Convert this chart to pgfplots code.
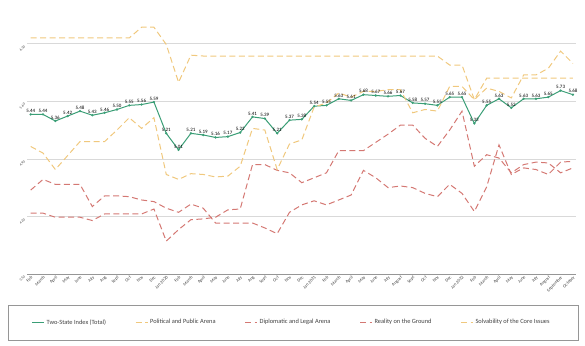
\documentclass[border=0pt]{standalone}
\usepackage{fontspec}
\setmainfont{Carlito}
\usepackage{pgfplots}
\usepackage{pgfplotstable}
\pgfplotsset{compat=1.18}
\definecolor{cgreen}{RGB}{58,158,118}
\definecolor{cyellow}{RGB}{240,200,125}
\definecolor{cred}{RGB}{212,120,115}
\definecolor{cgrid}{RGB}{217,217,217}
\definecolor{caxis}{RGB}{150,150,150}
\definecolor{ctext}{RGB}{64,64,64}

\pgfplotstableread{
i total pol solv real dip
0 5.44 6.37 5.05 4.52 4.24
1 5.44 6.37 4.97 4.65 4.24
2 5.36 6.37 4.77 4.59 4.19
3 5.42 6.37 4.94 4.59 4.19
4 5.48 6.37 5.11 4.59 4.19
5 5.43 6.37 5.11 4.32 4.15
6 5.46 6.37 5.11 4.45 4.23
7 5.50 6.37 5.25 4.45 4.23
8 5.55 6.37 5.40 4.44 4.23
9 5.56 6.50 5.27 4.40 4.23
10 5.59 6.50 5.40 4.38 4.29
11 5.21 6.29 4.71 4.30 3.90
12 5.01 5.83 4.65 4.25 4.04
13 5.21 6.16 4.72 4.35 4.16
14 5.19 6.15 4.71 4.30 4.17
15 5.16 6.15 4.68 4.12 4.19
16 5.17 6.15 4.69 4.12 4.28
17 5.22 6.15 4.81 4.12 4.29
18 5.41 6.15 5.27 4.12 4.83
19 5.39 6.15 5.25 4.06 4.83
20 5.21 6.15 4.77 3.99 4.76
21 5.37 6.15 5.08 4.25 4.73
22 5.38 6.15 5.13 4.34 4.61
23 5.54 6.15 5.53 4.39 4.67
24 5.55 6.15 5.58 4.34 4.73
25 5.63 6.15 5.70 4.40 5.00
26 5.61 6.15 5.65 4.46 5.00
27 5.68 6.15 5.72 4.76 5.00
28 5.67 6.15 5.72 4.67 5.10
29 5.66 6.15 5.74 4.55 5.20
30 5.67 6.15 5.74 4.57 5.31
31 5.58 6.15 5.46 4.55 5.31
32 5.57 6.15 5.50 4.48 5.15
33 5.55 6.15 5.48 4.44 5.05
34 5.65 6.04 5.78 4.59 5.25
35 5.65 6.04 5.78 4.48 5.48
36 5.33 5.62 5.62 4.26 4.81
37 5.55 5.88 5.76 4.56 4.95
38 5.63 5.88 5.72 5.07 4.91
39 5.52 5.88 5.64 4.71 4.73
40 5.63 5.88 5.92 4.79 4.83
41 5.63 5.88 5.92 4.77 4.86
42 5.65 5.88 6.00 4.71 4.85
43 5.73 5.88 6.21 4.86 4.73
44 5.68 5.88 6.06 4.87 4.79
}\data

\begin{document}
\begin{tikzpicture}[x=1pt,y=1pt]
\useasboundingbox (0,0) rectangle (585,345);
\draw[caxis, line width=0.6pt] (8,5) rectangle (578,40);
\begin{axis}[
  at={(27pt,71pt)}, anchor=south west,
  scale only axis, width=549pt, height=255pt,
  xmin=-0.3, xmax=44.25, ymin=3.5, ymax=6.6,
  ytick={3.5,4.2,4.9,5.6,6.3},
  xtick={0,...,44},
  xticklabels={Feb,March,April,May,June,July,Aug,Sept,Oct,Nov,Dec,Jan 2020,Feb,March,April,May,June,July,Aug,Sept,Oct,Nov,Dec,Jan 2021,Feb,March,April,May,June,July,August,Sept,Oct,Nov,Dec,Jan 2022,Feb,March,April,May,June,July,August,September,October},
  xticklabel style={rotate=45, anchor=north east, font=\fontsize{4.5}{5}\selectfont, text=ctext, inner sep=1pt},
  yticklabel style={rotate=45, anchor=east, font=\fontsize{3.6}{4}\selectfont, text=ctext, /pgf/number format/fixed, /pgf/number format/fixed zerofill, /pgf/number format/precision=2},
  /pgf/number format/assume math mode=true,
  axis lines*=left,
  y axis line style={draw=none},
  x axis line style={caxis, line width=0.8pt},
  tick style={draw=none},
  ymajorgrids, grid style={cgrid, line width=0.6pt},
  clip=false,
  legend columns=5,
  legend style={at={(0.482,-0.19)}, anchor=center, draw=none, fill=none,
    font=\fontsize{6.4}{7}\selectfont, text=ctext,
    /tikz/every even column/.append style={column sep=27pt}},
  legend cell align=left,
  legend image code/.code={\draw[#1] (0pt,0pt) -- (12pt,0pt);},
]
\addplot[cgreen, line width=1pt, mark=*, mark size=0.6pt,
  nodes near coords, point meta=explicit,
  every node near coord/.append style={font=\fontsize{5}{5}\selectfont, text=black, inner sep=1.2pt, /pgf/number format/fixed, /pgf/number format/fixed zerofill, /pgf/number format/precision=2, /pgf/number format/assume math mode=true}]
  table[x=i, y=total, meta=total] {\data};
\addlegendentry{Two-State Index (Total)}
\addplot[cyellow, line width=1pt, dash pattern=on 6pt off 3.5pt] table[x=i, y=pol] {\data};
\addlegendentry{Political and Public Arena}
\addplot[cred, line width=1pt, dash pattern=on 6pt off 3.5pt] table[x=i, y=dip] {\data};
\addlegendentry{Diplomatic and Legal Arena}
\addplot[cred, line width=1pt, dash pattern=on 6pt off 3.5pt] table[x=i, y=real] {\data};
\addlegendentry{Reality on the Ground}
\addplot[cyellow, line width=1pt, dash pattern=on 6pt off 3.5pt] table[x=i, y=solv] {\data};
\addlegendentry{Solvability of the Core Issues}
\end{axis}
\end{tikzpicture}
\end{document}
